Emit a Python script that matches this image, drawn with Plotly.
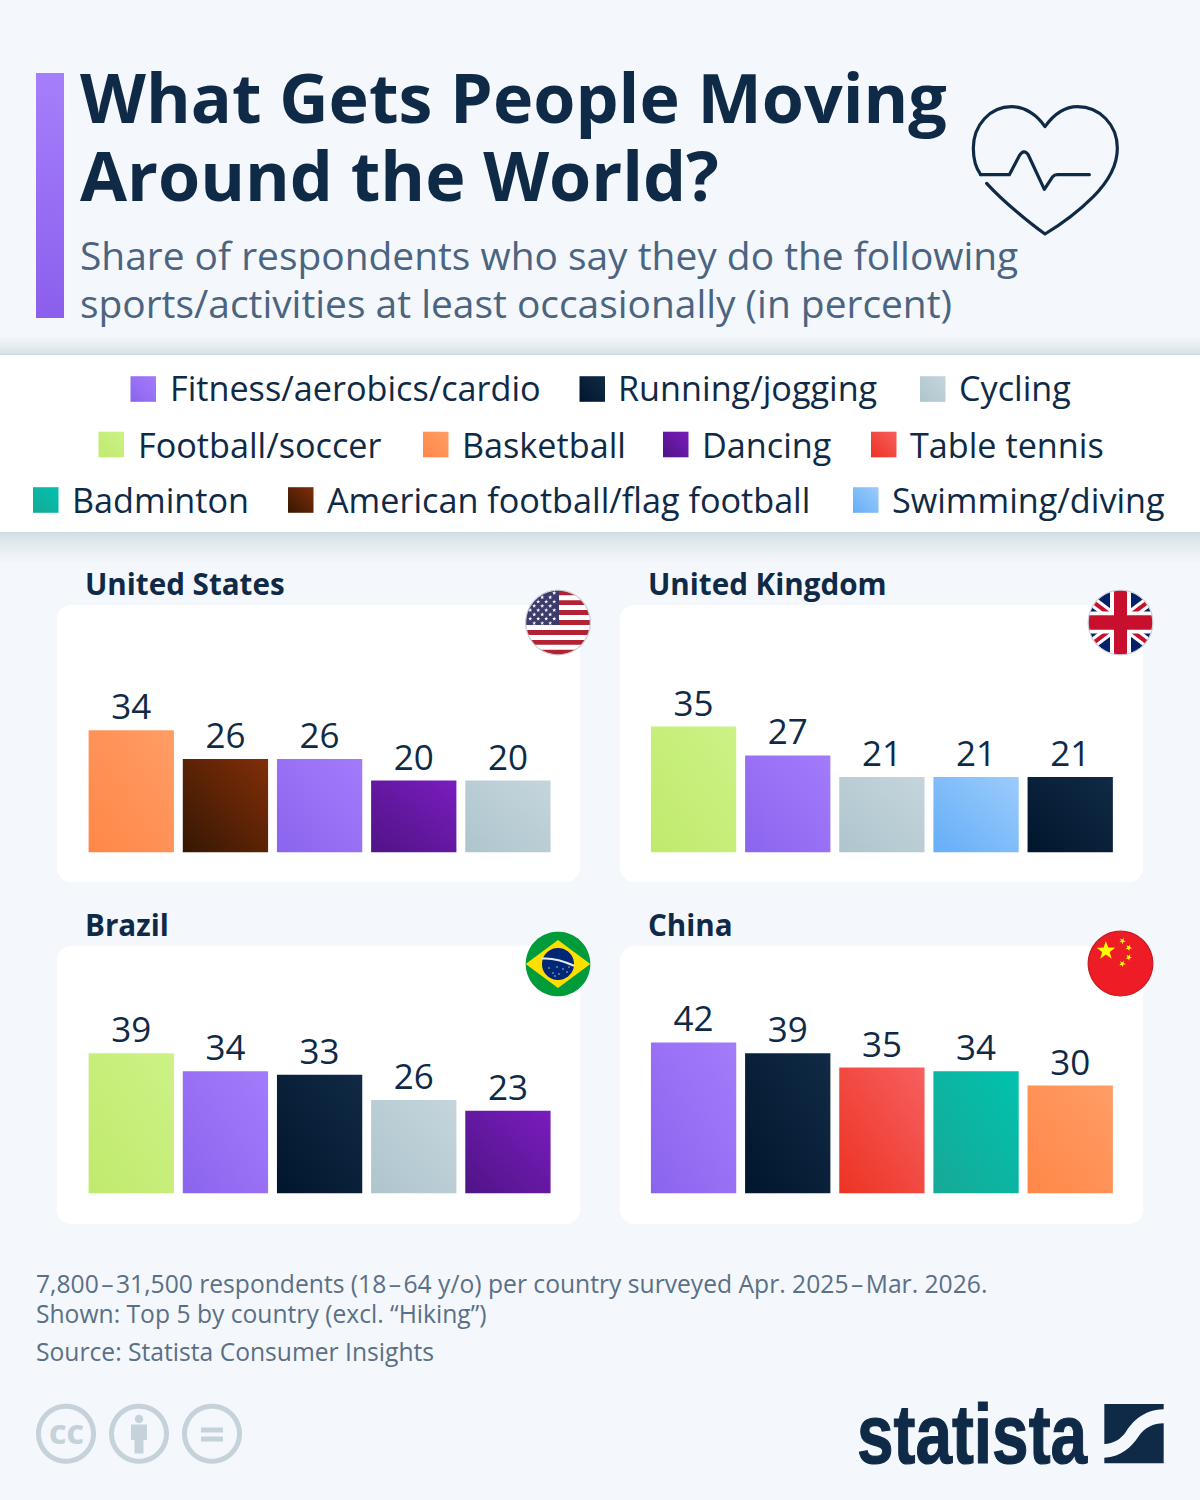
import json
import math

import plotly.graph_objects as go

# Survey results, top five activities per country
US_LABELS = ["Basketball", "American football/flag football", "Fitness/aerobics/cardio", "Dancing", "Cycling"]
US_VALUES = [34, 26, 26, 20, 20]
UK_LABELS = ["Football/soccer", "Fitness/aerobics/cardio", "Cycling", "Swimming/diving", "Running/jogging"]
UK_VALUES = [35, 27, 21, 21, 21]
BR_LABELS = ["Football/soccer", "Fitness/aerobics/cardio", "Running/jogging", "Cycling", "Dancing"]
BR_VALUES = [39, 34, 33, 26, 23]
CN_LABELS = ["Fitness/aerobics/cardio", "Running/jogging", "Table tennis", "Badminton", "Basketball"]
CN_VALUES = [42, 39, 35, 34, 30]
COUNTRIES = ["United States", "United Kingdom", "Brazil", "China"]

LEGEND_ROWS = [
    ["Fitness/aerobics/cardio", "Running/jogging", "Cycling"],
    ["Football/soccer", "Basketball", "Dancing", "Table tennis"],
    ["Badminton", "American football/flag football", "Swimming/diving"],
]

TITLE_LINES = ["What Gets People Moving", "Around the World?"]
SUBTITLE_LINES = [
    "Share of respondents who say they do the following",
    "sports/activities at least occasionally (in percent)",
]
NOTE_LINES = [
    "7,800\u200a\u2013\u200a31,500 respondents (18\u200a\u2013\u200a64 y/o) per country surveyed Apr. 2025\u200a\u2013\u200aMar. 2026.",
    "Shown: Top 5 by country (excl. \u201cHiking\u201d)",
    "Source: Statista Consumer Insights",
]

# Each activity's colour runs from its lower-left shade to its upper-right shade
SHADES = {
    "Fitness/aerobics/cardio": ("#8b64ee", "#a37cfb"),
    "Running/jogging": ("#00162d", "#112a45"),
    "Cycling": ("#aec5ce", "#c5d5dc"),
    "Football/soccer": ("#c0ea6e", "#ccf285"),
    "Basketball": ("#ff8747", "#ff9d66"),
    "Dancing": ("#4f1485", "#7a1cbe"),
    "Table tennis": ("#ec3323", "#f75f5f"),
    "Badminton": ("#18a897", "#00c2ae"),
    "American football/flag football": ("#351703", "#812e08"),
    "Swimming/diving": ("#64aef8", "#9ccbfb"),
}
ACCENT = ("#8b5fec", "#a57ffb")

NAVY = "#0f2a47"
SLATE = "#4b6480"
NOTE_GREY = "#5a7086"
ICON_GREY = "#c5d2d9"
PAGE = "#f4f7fb"

WIDTH, HEIGHT = 1200, 1500
PX_PER_POINT = 3.6
AXIS_TOP = 70


def px(x):
    return x / WIDTH


def py(y):
    return 1 - y / HEIGHT


shapes = []
annotations = []


def fmt(points):
    return "M" + " L".join(f"{px(x):.5f},{py(y):.5f}" for x, y in points) + " Z"


def add_path(path, fill=None, stroke=None, width=0, opacity=1):
    shapes.append(dict(
        type="path", path=path, xref="paper", yref="paper", layer="below", opacity=opacity,
        fillcolor=fill if fill else "rgba(0,0,0,0)",
        line=dict(color=stroke if stroke else "rgba(0,0,0,0)", width=width),
    ))


def add_rect(x0, y0, x1, y1, fill, opacity=1):
    add_path(fmt([(x0, y0), (x1, y0), (x1, y1), (x0, y1)]), fill=fill, opacity=opacity)


def add_text(x, y, text, size, color, weight=400, anchor="left", family="Open Sans"):
    annotations.append(dict(
        x=px(x), y=py(y), xref="paper", yref="paper", text=text, showarrow=False,
        xanchor=anchor, yanchor="middle", align=anchor, borderpad=0,
        font=dict(family=family, size=size, color=color, weight=weight),
    ))


def ring(cx, cy, r, n=96):
    return [(cx + r * math.cos(2 * math.pi * i / n), cy + r * math.sin(2 * math.pi * i / n)) for i in range(n)]


def clip(poly, window):
    # Sutherland-Hodgman against a convex window
    out = poly
    for i in range(len(window)):
        ax, ay = window[i]
        bx, by = window[(i + 1) % len(window)]
        inside = lambda p: (bx - ax) * (p[1] - ay) - (by - ay) * (p[0] - ax) >= 0
        src, out = out, []
        for j in range(len(src)):
            p, q = src[j], src[(j + 1) % len(src)]
            pin, qin = inside(p), inside(q)
            if pin != qin:
                d1 = (bx - ax) * (p[1] - ay) - (by - ay) * (p[0] - ax)
                d2 = (bx - ax) * (q[1] - ay) - (by - ay) * (q[0] - ax)
                t = d1 / (d1 - d2)
                crossing = (p[0] + t * (q[0] - p[0]), p[1] + t * (q[1] - p[1]))
            if pin:
                out.append(p)
                if not qin:
                    out.append(crossing)
            elif qin:
                out.append(crossing)
        if not out:
            return []
    return out


def star(cx, cy, r, tilt=-math.pi / 2):
    pts = []
    for i in range(10):
        rad = r if i % 2 == 0 else r * 0.4
        a = tilt + i * math.pi / 5
        pts.append((cx + rad * math.cos(a), cy + rad * math.sin(a)))
    return pts


def band(a, b, half):
    # Rectangle of half-width `half` around the segment a-b
    dx, dy = b[0] - a[0], b[1] - a[1]
    norm = math.hypot(dx, dy)
    nx, ny = -dy / norm * half, dx / norm * half
    return [(a[0] + nx, a[1] + ny), (b[0] + nx, b[1] + ny), (b[0] - nx, b[1] - ny), (a[0] - nx, a[1] - ny)]


def disc_fill(cx, cy, r, poly, fill):
    cut = clip(poly, ring(cx, cy, r))
    if cut:
        add_path(fmt(cut), fill=fill)


def flag_rim(cx, cy, r, color):
    add_path(fmt(ring(cx, cy, r)), stroke=color, width=1.2)


def us_flag(cx, cy, r):
    red, white, blue = "#b22234", "#ffffff", "#3c3b6e"
    add_path(fmt(ring(cx, cy, r)), fill=white)
    top = cy - r
    h = 2 * r / 13
    for i in range(0, 13, 2):
        disc_fill(cx, cy, r, [(cx - r, top + i * h), (cx + r, top + i * h), (cx + r, top + (i + 1) * h), (cx - r, top + (i + 1) * h)], red)
    disc_fill(cx, cy, r, [(cx - r, top), (cx + 1, top), (cx + 1, top + 7 * h), (cx - r, top + 7 * h)], blue)
    for row in range(8):
        for col in range(5):
            sx = cx - r + 4.5 + col * 8 + (0 if row % 2 == 0 else 4)
            sy = top + 2.8 + row * 4.3
            if math.hypot(sx - cx, sy - cy) < r - 1.5 and sx < cx:
                add_path(fmt(star(sx, sy, 2.2)), fill=white)
    flag_rim(cx, cy, r, "#c9ced6")


def uk_flag(cx, cy, r):
    blue, red, white = "#012169", "#c8102e", "#ffffff"
    add_path(fmt(ring(cx, cy, r)), fill=blue)
    run, rise = r * 1.4, r * 1.05
    for a, b in [((cx - run, cy - rise), (cx + run, cy + rise)), ((cx - run, cy + rise), (cx + run, cy - rise))]:
        disc_fill(cx, cy, r, band(a, b, 5.2), white)
        disc_fill(cx, cy, r, band(a, b, 2.0), red)
    disc_fill(cx, cy, r, band((cx - r, cy), (cx + r, cy), 11), white)
    disc_fill(cx, cy, r, band((cx, cy - r), (cx, cy + r), 10.5), white)
    disc_fill(cx, cy, r, band((cx - r, cy), (cx + r, cy), 7.3), red)
    disc_fill(cx, cy, r, band((cx, cy - r), (cx, cy + r), 6.5), red)
    flag_rim(cx, cy, r, "#cfd3da")


def brazil_flag(cx, cy, r):
    add_path(fmt(ring(cx, cy, r)), fill="#009c3b")
    disc_fill(cx, cy, r, [(cx - r, cy), (cx, cy - 24), (cx + r, cy), (cx, cy + 24)], "#ffdf00")
    add_path(fmt(ring(cx, cy, 16)), fill="#002776")
    a = (cx - 15.5, cy - 5.5)
    m = (cx - 2, cy - 6.5)
    b = (cx + 15.5, cy + 1.5)
    add_path(f"M{px(a[0]):.5f},{py(a[1]):.5f} Q{px(m[0]):.5f},{py(m[1]):.5f} {px(b[0]):.5f},{py(b[1]):.5f}",
             stroke="#e8ecf2", width=2)
    for dx, dy in [(-9, 4), (-5, 9), (-1, 3), (1, 10), (5, 5), (9, 8), (11, 3), (-3, 12)]:
        add_path(fmt(ring(cx + dx, cy + dy, 0.7, 8)), fill="#dfe6f0")


def china_flag(cx, cy, r):
    yellow = "#ffff00"
    add_path(fmt(ring(cx, cy, r)), fill="#ee1c25")
    add_path(fmt(star(cx - 14.6, cy - 12.8, 9.8)), fill=yellow)
    for dx, dy in [(1.8, -22.6), (8.2, -15.8), (8.2, -6.2), (1.8, 0.2)]:
        add_path(fmt(star(cx + dx, cy + dy, 3.4, tilt=-math.pi / 2 + 0.5)), fill=yellow)
    flag_rim(cx, cy, r, "#c41a22")


def rounded_card(x0, y0, x1, y1, r):
    k = r * 0.45
    coords = [
        ("M", [(x0 + r, y0)]), ("L", [(x1 - r, y0)]),
        ("C", [(x1 - k, y0), (x1, y0 + k), (x1, y0 + r)]), ("L", [(x1, y1 - r)]),
        ("C", [(x1, y1 - k), (x1 - k, y1), (x1 - r, y1)]), ("L", [(x0 + r, y1)]),
        ("C", [(x0 + k, y1), (x0, y1 - k), (x0, y1 - r)]), ("L", [(x0, y0 + r)]),
        ("C", [(x0, y0 + k), (x0 + k, y0), (x0 + r, y0)]),
    ]
    path = " ".join(c + " ".join(f"{px(x):.5f},{py(y):.5f}" for x, y in pts) for c, pts in coords) + " Z"
    add_path(path, fill="#ffffff")


def icon_path(commands, ox, oy, scale=1 / 3):
    # Commands are written in a local grid and mapped onto the page
    parts = []
    for cmd, pts in commands:
        mapped = [f"{px(ox + x * scale):.5f},{py(oy + y * scale):.5f}" for x, y in pts]
        parts.append(cmd + " ".join(mapped))
    return " ".join(parts)


# Title accent
add_rect(36, 73, 64, 318, ACCENT[1])

# Legend band with soft shadows above and below
for k in range(1, 15):
    add_rect(0, 532, WIDTH, 532 + 30 * (k / 14) ** 1.7, "#1f3347", opacity=0.011)
    add_rect(0, 355 - 18 * (k / 14) ** 1.7, WIDTH, 355, "#1f3347", opacity=0.011)
add_rect(0, 355, WIDTH, 532, "#ffffff")

# Legend entries
LEGEND_SWATCH_X = [[130.5, 579.5, 920], [98.5, 423, 663, 871], [33, 288, 853]]
LEGEND_Y = [389, 444.5, 500]
LEGEND_TEXT_Y = [388, 444, 499.5]
for names, xs, y, text_y in zip(LEGEND_ROWS, LEGEND_SWATCH_X, LEGEND_Y, LEGEND_TEXT_Y):
    for name, x in zip(names, xs):
        add_rect(x, y - 12.8, x + 25.5, y + 12.8, SHADES[name][1])
        add_text(x + 38, text_y, name, 34.2, NAVY)

# Cards behind the four panels
CARD_BOXES = [(57, 605, 580, 882), (620, 605, 1143, 882), (57, 946, 580, 1224), (620, 946, 1143, 1224)]
for box in CARD_BOXES:
    rounded_card(*box, 14)

# Flags
us_flag(558, 622.5, 32.3)
uk_flag(1120.5, 622.5, 32.3)
brazil_flag(558, 964, 32.3)
china_flag(1120.5, 963.5, 32.3)

# Heart with pulse line
HEART = [
    ("M", [(62, 254)]), ("C", [(48, 235), (40, 205), (40, 175)]), ("C", [(40, 105), (90, 50), (155, 50)]),
    ("C", [(195, 50), (232, 75), (255, 110)]), ("C", [(280, 75), (315, 50), (352, 50)]),
    ("C", [(420, 50), (472, 105), (472, 175)]), ("C", [(472, 225), (445, 275), (400, 320)]),
    ("C", [(355, 365), (300, 405), (255, 432)]), ("C", [(210, 400), (130, 335), (80, 280)]),
]
PULSE = [
    ("M", [(62, 254)]), ("L", [(148, 254)]), ("L", [(178, 197)]), ("Q", [(192, 175), (205, 195)]),
    ("L", [(253, 298)]), ("L", [(278, 260)]), ("Q", [(283, 254), (292, 254)]), ("L", [(388, 254)]),
]
add_path(icon_path(HEART, 960, 90), stroke=NAVY, width=3.2)
add_path(icon_path(PULSE, 960, 90), stroke=NAVY, width=3.2)

# Licence icons
for cx in (66, 139, 212):
    add_path(fmt(ring(cx, 1433.7, 27.5)), stroke=ICON_GREY, width=5)
add_text(66, 1433.7, "CC", 27, ICON_GREY, weight=800, anchor="center")
add_path(fmt(ring(139, 1419, 4.2, 24)), fill=ICON_GREY)
add_path(fmt([(131, 1424.5), (147, 1424.5), (147, 1440), (143.5, 1440), (143.5, 1453.5), (134.5, 1453.5), (134.5, 1440), (131, 1440)]), fill=ICON_GREY)
add_rect(201, 1427.5, 223, 1432.5, ICON_GREY)
add_rect(201, 1436.5, 223, 1441.5, ICON_GREY)

# Statista mark
MARK_UPPER = [
    ("M", [(793, 42)]), ("L", [(971, 42)]), ("L", [(971, 58)]),
    ("C", [(905, 60), (875, 100), (858, 125)]), ("C", [(840, 150), (820, 160), (793, 162)]),
]
MARK_LOWER = [
    ("M", [(971, 100)]), ("L", [(971, 220)]), ("L", [(793, 220)]), ("L", [(793, 203)]),
    ("C", [(845, 200), (875, 170), (895, 140)]), ("C", [(915, 112), (940, 100), (971, 100)]),
]
add_path(icon_path(MARK_UPPER, 840, 1390) + " Z", fill=NAVY)
add_path(icon_path(MARK_LOWER, 840, 1390) + " Z", fill=NAVY)
add_text(972, 1434, "statista", 84, NAVY, weight=700, anchor="center", family="Liberation Sans")

# Heading and notes
for y, line in zip((96.8, 174), TITLE_LINES):
    add_text(79, y, line, 68.2, NAVY, weight=700)
for y, line in zip((254.5, 302.5), SUBTITLE_LINES):
    add_text(78.5, y, line, 38.9, SLATE)
for y, line in zip((1283, 1313, 1351), NOTE_LINES):
    add_text(35, y, line, 24.65, NOTE_GREY)

# Panels: one bar chart per country, all on the same value scale
PANEL_DATA = [(US_LABELS, US_VALUES), (UK_LABELS, UK_VALUES), (BR_LABELS, BR_VALUES), (CN_LABELS, CN_VALUES)]
PANEL_SPOTS = [(84.2, 852.6), (646.5, 852.6), (84.2, 1193.6), (646.5, 1193.6)]
PANEL_WIDTH = 470.8
TITLE_OFFSETS = [(83.8, 583.5), (646.8, 583.5), (83.8, 924.5), (646.8, 924.5)]

fig = go.Figure()
layout_axes = {}
for i, ((labels, values), (left, base), country, spot) in enumerate(zip(PANEL_DATA, PANEL_SPOTS, COUNTRIES, TITLE_OFFSETS), start=1):
    suffix = "" if i == 1 else str(i)
    fig.add_trace(go.Bar(
        x=labels, y=values, name=country, xaxis=f"x{suffix}", yaxis=f"y{suffix}",
        marker=dict(color=[SHADES[name][1] for name in labels], line=dict(width=0)),
        text=values, textposition="outside", cliponaxis=False, constraintext="none",
        textfont=dict(family="Open Sans", size=35, color=NAVY), showlegend=False,
        hovertemplate="%{x}: %{y}%<extra>" + country + "</extra>",
    ))
    layout_axes[f"xaxis{suffix}"] = dict(
        domain=[px(left), px(left + PANEL_WIDTH)], type="category", categoryorder="array",
        categoryarray=labels, anchor=f"y{suffix}", showticklabels=False, showgrid=False,
        zeroline=False, showline=False, ticks="", fixedrange=True,
    )
    layout_axes[f"yaxis{suffix}"] = dict(
        domain=[py(base), py(base - AXIS_TOP * PX_PER_POINT)], range=[0, AXIS_TOP], anchor=f"x{suffix}",
        showticklabels=False, showgrid=False, zeroline=False, showline=False, ticks="", fixedrange=True,
    )
    add_text(spot[0], spot[1], country, 29.6, NAVY, weight=700)

fig.update_layout(
    width=WIDTH, height=HEIGHT, margin=dict(l=0, r=0, t=0, b=0, pad=0), autosize=False,
    paper_bgcolor=PAGE, plot_bgcolor="rgba(0,0,0,0)", bargap=0.094, showlegend=False,
    shapes=shapes, annotations=annotations, font=dict(family="Open Sans", color=NAVY), **layout_axes,
)


def rgb_key(color):
    return "rgb({}, {}, {})".format(int(color[1:3], 16), int(color[3:5], 16), int(color[5:7], 16))


gradients = [
    dict(key=rgb_key(hi), low=lo, high=hi, vertical=False) for lo, hi in SHADES.values()
] + [dict(key=rgb_key(ACCENT[1]), low=ACCENT[0], high=ACCENT[1], vertical=True)]

# Bars and swatches get their diagonal shading once the plot is drawn;
# value labels sit a little lower and the wordmark is set condensed
PAINT_GRADIENTS = """
var gd = document.getElementById('{plot_id}');
var grads = __GRADIENTS__;
var NS = 'http://www.w3.org/2000/svg';
var svg = gd.querySelector('svg.main-svg');
var defs = document.createElementNS(NS, 'defs');
var lookup = {};
grads.forEach(function (g, i) {
  var lg = document.createElementNS(NS, 'linearGradient');
  lg.setAttribute('id', 'shade' + i);
  lg.setAttribute('x1', '0'); lg.setAttribute('y1', '1');
  lg.setAttribute('x2', g.vertical ? '0' : '1'); lg.setAttribute('y2', '0');
  [[0, g.low], [1, g.high]].forEach(function (s) {
    var stop = document.createElementNS(NS, 'stop');
    stop.setAttribute('offset', s[0]);
    stop.setAttribute('stop-color', s[1]);
    lg.appendChild(stop);
  });
  defs.appendChild(lg);
  lookup[g.key] = 'url(#shade' + i + ')';
});
svg.insertBefore(defs, svg.firstChild);
gd.querySelectorAll('.bars .point path, .shapelayer path').forEach(function (p) {
  var fill = p.style.fill;
  if (lookup[fill]) { p.style.fill = lookup[fill]; }
  p.style.strokeLinecap = 'round';
  p.style.strokeLinejoin = 'round';
});
gd.querySelectorAll('.bars .point text').forEach(function (t) {
  t.setAttribute('transform', 'translate(0,2) ' + (t.getAttribute('transform') || ''));
});
gd.querySelectorAll('.annotation-text').forEach(function (t) {
  if (t.textContent === 'statista') {
    t.setAttribute('textLength', '230');
    t.setAttribute('lengthAdjust', 'spacingAndGlyphs');
    t.style.stroke = t.style.fill;
    t.style.strokeWidth = '1.2px';
  }
});
""".replace("__GRADIENTS__", json.dumps(gradients))

fig.write_html("out.html", post_script=PAINT_GRADIENTS, config=dict(displayModeBar=False))
